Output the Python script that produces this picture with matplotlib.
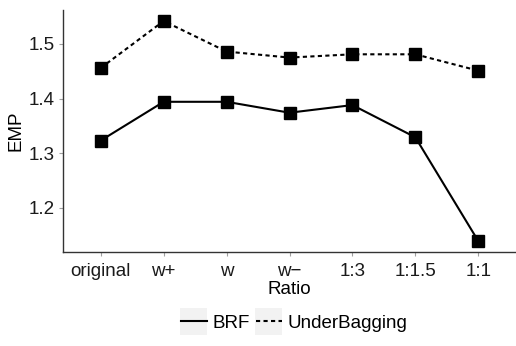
import matplotlib
matplotlib.use("Agg")
import matplotlib.pyplot as plt
from matplotlib.patches import Rectangle

ratios = ["original", "w+", "w", "w\u2212", "1:3", "1:1.5", "1:1"]
brf = [1.323, 1.394, 1.394, 1.374, 1.388, 1.329, 1.139]
underbagging = [1.456, 1.542, 1.486, 1.475, 1.481, 1.481, 1.451]
yticks = [1.2, 1.3, 1.4, 1.5]

plt.rcParams['font.family'] = ['Liberation Sans', 'DejaVu Sans']

W, H = 516, 346
fig = plt.figure(figsize=(W / 100, H / 100), dpi=100)
ax = fig.add_axes([63 / W, 1 - 252 / H, (516 - 63) / W, (252 - 10) / H])

x = list(range(len(ratios)))
ax.plot(x, brf, color='black', lw=1.5, marker='s', markersize=8, label='BRF')
ax.plot(x, underbagging, color='black', lw=1.5, ls=(0, (2.0, 1.6)), marker='s',
        markersize=8, label='UnderBagging')

ax.set_xlim(-0.6, len(ratios) - 1 + 0.6)
lo = min(brf + underbagging); hi = max(brf + underbagging)
pad = (hi - lo) * 0.05
ax.set_ylim(lo - pad, hi + pad)
ax.set_xticks(x)
ax.set_xticklabels(ratios)
ax.set_yticks(yticks)
ax.set_yticklabels([f"{v:.1f}" for v in yticks])

for s in ['top', 'right']:
    ax.spines[s].set_visible(False)
for s in ['left', 'bottom']:
    ax.spines[s].set_linewidth(1.0)
    ax.spines[s].set_color('#333333')
ax.tick_params(axis='both', length=3, width=0.8, color='#a0a0a0',
               labelsize=13.5, labelcolor='#1a1a1a')
ax.tick_params(axis='x', pad=5)
ax.tick_params(axis='y', pad=3)
ax.set_xlabel('Ratio', fontsize=13.5, labelpad=1)
ax.set_ylabel('EMP', fontsize=13.5, labelpad=3)

leg = fig.legend(loc='center', bbox_to_anchor=(294 / W, 1 - 323 / H), ncol=2,
                 frameon=False, fontsize=13.5, handlelength=1.4, handletextpad=0.3,
                 columnspacing=0.3, borderpad=0)
for h in leg.legend_handles:
    h.set_marker('')

fig.canvas.draw()
for h in leg.legend_handles:
    bb = h.get_window_extent()
    cx = (bb.x0 + bb.x1) / 2
    cy = (bb.y0 + bb.y1) / 2
    r = Rectangle((cx - 13.5, cy - 13.5), 27, 27, transform=None,
                  facecolor='#f2f2f2', edgecolor='none', zorder=-1)
    fig.patches.append(r)

fig.savefig('out.png', dpi=100)
